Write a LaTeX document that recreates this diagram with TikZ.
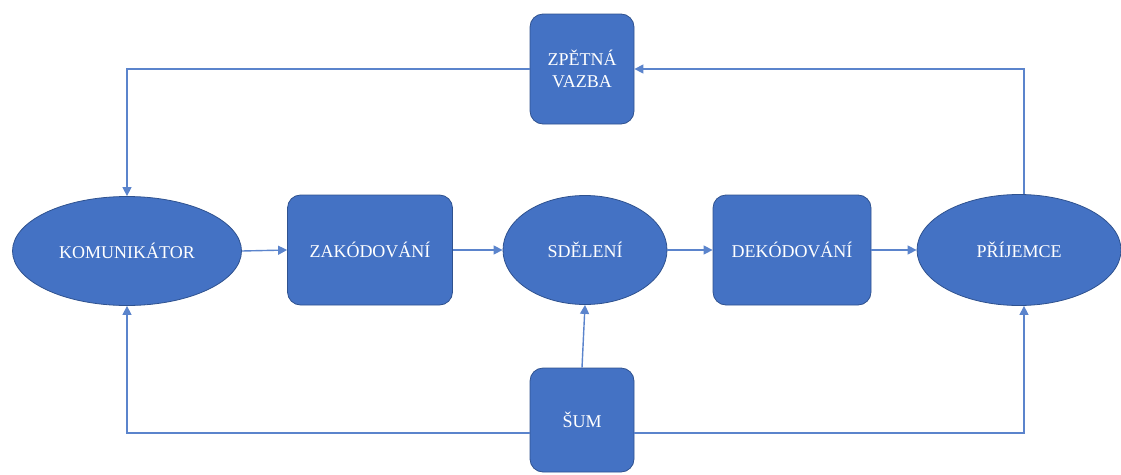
\documentclass[tikz,border=0pt]{standalone}
\usepackage{fontspec}
\setmainfont{Liberation Serif}
\usetikzlibrary{shapes.geometric,arrows.meta}
\definecolor{fillblue}{HTML}{4472C4}
\definecolor{edgeblue}{HTML}{2F528F}
\definecolor{lineblue}{HTML}{5B84CC}
\tikzset{
  shapebase/.style={fill=fillblue, draw=edgeblue, line width=0.8pt, text=white, inner sep=0pt,
    font=\fontsize{18}{22}\selectfont, align=center},
  roundbox/.style={shapebase, rectangle, rounded corners=13pt},
  oval/.style={shapebase, ellipse},
  conn/.style={draw=lineblue, line width=1.4pt, -{Triangle[length=9pt,width=9pt]}},
  plain/.style={draw=lineblue, line width=1.4pt}
}
\begin{document}
\begin{tikzpicture}[x=1pt,y=-1pt]
\useasboundingbox (0,0) rectangle (1121,474);
\node[oval, minimum width=229pt, minimum height=109pt] (kom) at (127,251) {KOMUNIKÁTOR};
\node[roundbox, minimum width=165pt, minimum height=110pt] (zak) at (370,250) {ZAKÓDOVÁNÍ};
\node[oval, minimum width=164pt, minimum height=109pt] (sde) at (585,250) {SDĚLENÍ};
\node[roundbox, minimum width=158pt, minimum height=110pt] (dek) at (792,250) {DEKÓDOVÁNÍ};
\node[oval, minimum width=204pt, minimum height=111pt] (pri) at (1019,250) {PŘÍJEMCE};
\node[roundbox, minimum width=104pt, minimum height=110pt] (zpe) at (582,69) {ZPĚTNÁ\\VAZBA};
\node[roundbox, minimum width=104pt, minimum height=104pt] (sum) at (582,420) {ŠUM};
\coordinate (tr) at (1024,69);
\coordinate (tl) at (127,69);
\coordinate (bl) at (127,433);
\coordinate (br) at (1024,433);
% main chain
\draw[conn] (kom.east) -- (zak.west);
\draw[conn] (zak.east) -- (sde.west);
\draw[conn] (sde.east) -- (dek.west);
\draw[conn] (dek.east) -- (pri.west);
% feedback
\draw[conn] (pri.north -| tr) -- (tr) -- (zpe.east);
\draw[conn] (zpe.west) -- (tl) -- (kom.north);
% noise
\draw[conn] (sum.north) -- (sde.south);
\draw[conn] (sum.west |- bl) -- (bl) -- (kom.south);
\draw[conn] (sum.east |- br) -- (br) -- (br |- pri.south);
\end{tikzpicture}
\end{document}
